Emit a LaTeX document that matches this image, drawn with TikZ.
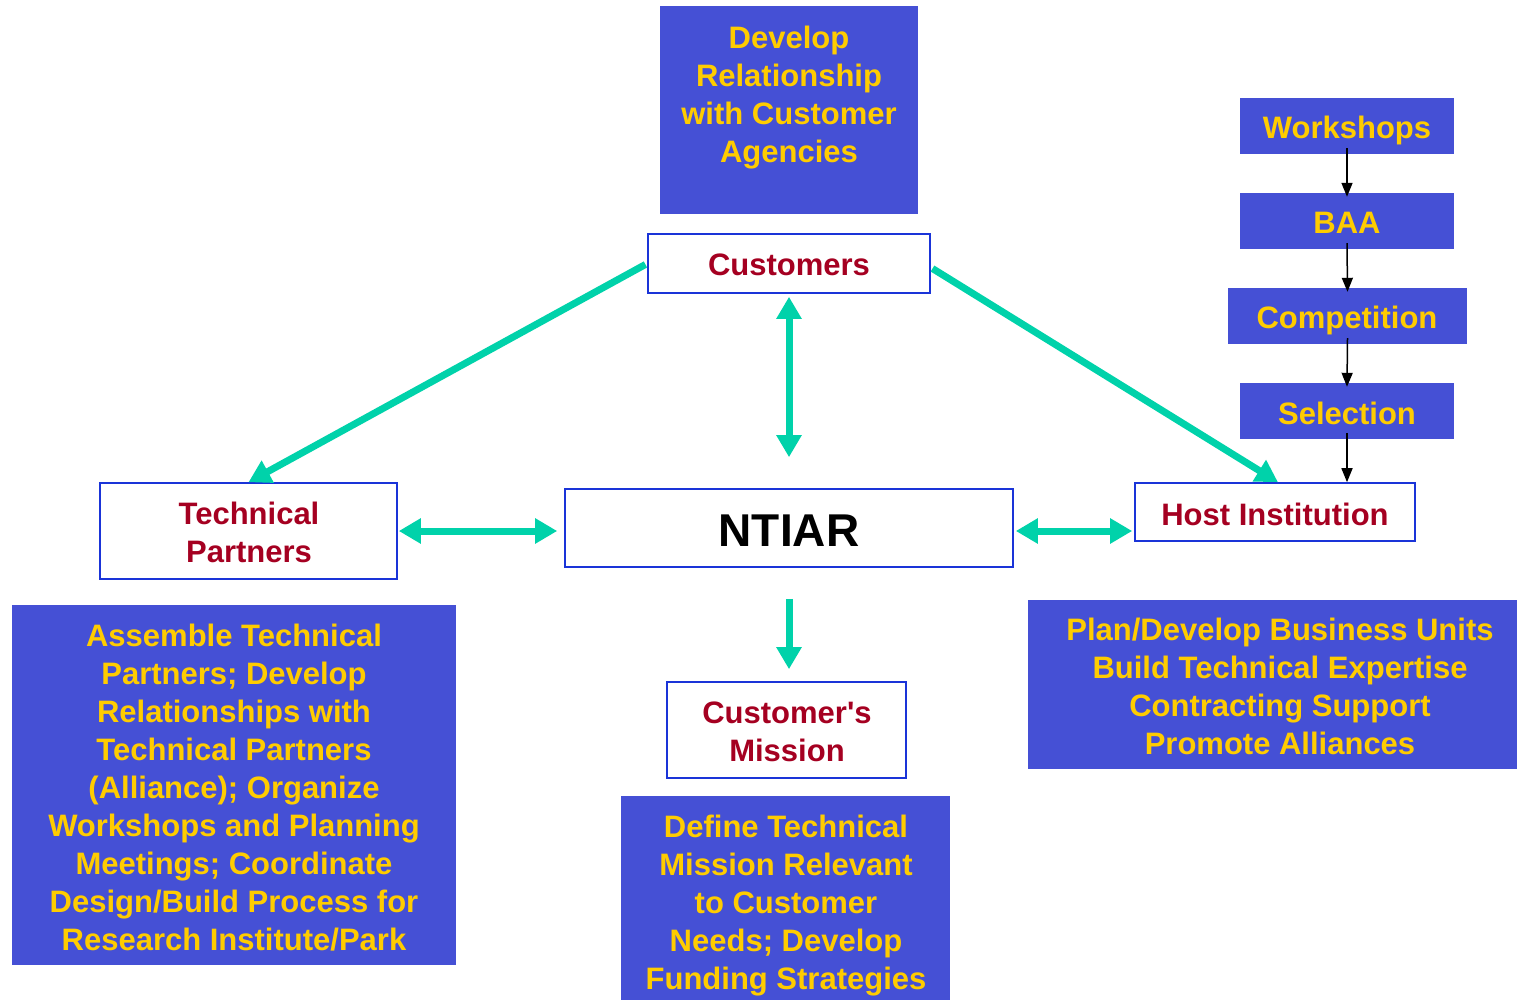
\documentclass[tikz,border=0pt]{standalone}
\usepackage{fontspec}
\setmainfont{Liberation Sans}
\newfontfamily\mainsans{Liberation Sans}
\usetikzlibrary{arrows.meta}
\definecolor{boxblue}{HTML}{4550D5}
\definecolor{gold}{HTML}{FFCC00}
\definecolor{darkred}{HTML}{A50021}
\definecolor{edgeblue}{HTML}{1A34D8}
\definecolor{tealc}{HTML}{00D2AA}
\tikzset{
  bluebox/.style={draw=none, fill=boxblue, inner sep=0pt},
  whitebox/.style={draw=edgeblue, line width=1.6pt, fill=white, inner sep=0pt},
  goldtext/.style={text=gold, font=\mainsans\bfseries\fontsize{31}{38}\selectfont, align=center, inner sep=0pt},
  redtext/.style={text=darkred, font=\mainsans\bfseries\fontsize{31}{38}\selectfont, align=center, inner sep=0pt},
  tealarrow/.style={draw=tealc, line width=7pt, arrows={-Triangle[width=24pt,length=22pt]}},
  tealdouble/.style={draw=tealc, line width=7pt, arrows={Triangle[width=24pt,length=22pt]-Triangle[width=24pt,length=22pt]}},
  blackarrow/.style={draw=black, line width=1.5pt, arrows={-Triangle[width=11pt,length=14pt]}}
}
\begin{document}
\begin{tikzpicture}[x=1pt,y=-1pt]
\useasboundingbox (0,0) rectangle (1518,1000);
% blue boxes
\node[bluebox, minimum width=258pt, minimum height=208pt] (dev) at (789,110) {};
\node[goldtext] at (789,97.5) {Develop\\Relationship\\with Customer\\Agencies};
\node[bluebox, minimum width=444pt, minimum height=360pt] (assem) at (234,785) {};
\node[goldtext] at (234,788) {Assemble Technical\\Partners; Develop\\Relationships with\\Technical Partners\\(Alliance); Organize\\Workshops and Planning\\Meetings; Coordinate\\Design/Build Process for\\Research Institute/Park};
\node[bluebox, minimum width=329pt, minimum height=206pt] (define) at (785.5,899) {};
\node[goldtext] at (786,905.5) {Define Technical\\Mission Relevant\\to Customer\\Needs; Develop\\Funding Strategies};
\node[bluebox, minimum width=489pt, minimum height=169pt] (plan) at (1272.5,684.5) {};
\node[goldtext] at (1280,686) {Plan/Develop Business Units\\Build Technical Expertise\\Contracting Support\\Promote Alliances};
% process chain
\node[bluebox, minimum width=214pt, minimum height=56pt] (ws) at (1347,126) {};
\node[goldtext] at (1347,130.5) {Workshops};
\node[bluebox, minimum width=214pt, minimum height=56pt] (baa) at (1347,221) {};
\node[goldtext] at (1347,223) {BAA};
\node[bluebox, minimum width=239pt, minimum height=56pt] (comp) at (1347.5,316) {};
\node[goldtext] at (1347,320.5) {Competition};
\node[bluebox, minimum width=214pt, minimum height=56pt] (sel) at (1347,411) {};
\node[goldtext] at (1347,413.5) {Selection};
% white boxes
\node[whitebox, minimum width=282pt, minimum height=59pt] (cust) at (789,263.5) {};
\node[redtext] at (789,265) {Customers};
\node[whitebox, minimum width=297pt, minimum height=96pt] (tech) at (248.5,531) {};
\node[redtext] at (249,532) {Technical\\Partners};
\node[whitebox, minimum width=448pt, minimum height=78pt] (ntiar) at (789,528) {};
\node[inner sep=0pt, font=\mainsans\bfseries\fontsize{46}{50}\selectfont] at (789,531) {NTIAR};
\node[whitebox, minimum width=280pt, minimum height=58pt] (host) at (1275,512) {};
\node[redtext] at (1275,514) {Host Institution};
\node[whitebox, minimum width=239pt, minimum height=96pt] (miss) at (786.5,730) {};
\node[redtext] at (787,731.5) {Customer's\\Mission};
% connectors
\draw[tealarrow, shorten <=2pt] (cust.west) -- (tech.north);
\draw[tealarrow, shorten <=2pt] ([yshift=-4pt]cust.east) -- ([xshift=3pt]host.north);
\draw[tealdouble, shorten <=3pt, shorten >=31pt] (cust.south) -- (ntiar.north);
\draw[tealdouble, shorten <=1pt, shorten >=7pt] (tech.east) -- (ntiar.west |- tech.east);
\draw[tealdouble, shorten <=2pt, shorten >=2pt] (ntiar.east |- tech.east) -- (host.west |- tech.east);
\draw[tealarrow, shorten <=31pt, shorten >=12pt] (ntiar.south) -- (ntiar.south |- miss.north);
\draw[blackarrow] ([yshift=6pt]ws.south) -- ([yshift=-4pt]baa.north);
\draw[blackarrow] ([yshift=6pt]baa.south) -- ([yshift=-4pt]comp.north);
\draw[blackarrow] ([yshift=6pt]comp.south) -- ([yshift=-4pt]sel.north);
\draw[blackarrow] ([yshift=6pt]sel.south) -- (host.north -| sel.south);
\end{tikzpicture}
\end{document}
